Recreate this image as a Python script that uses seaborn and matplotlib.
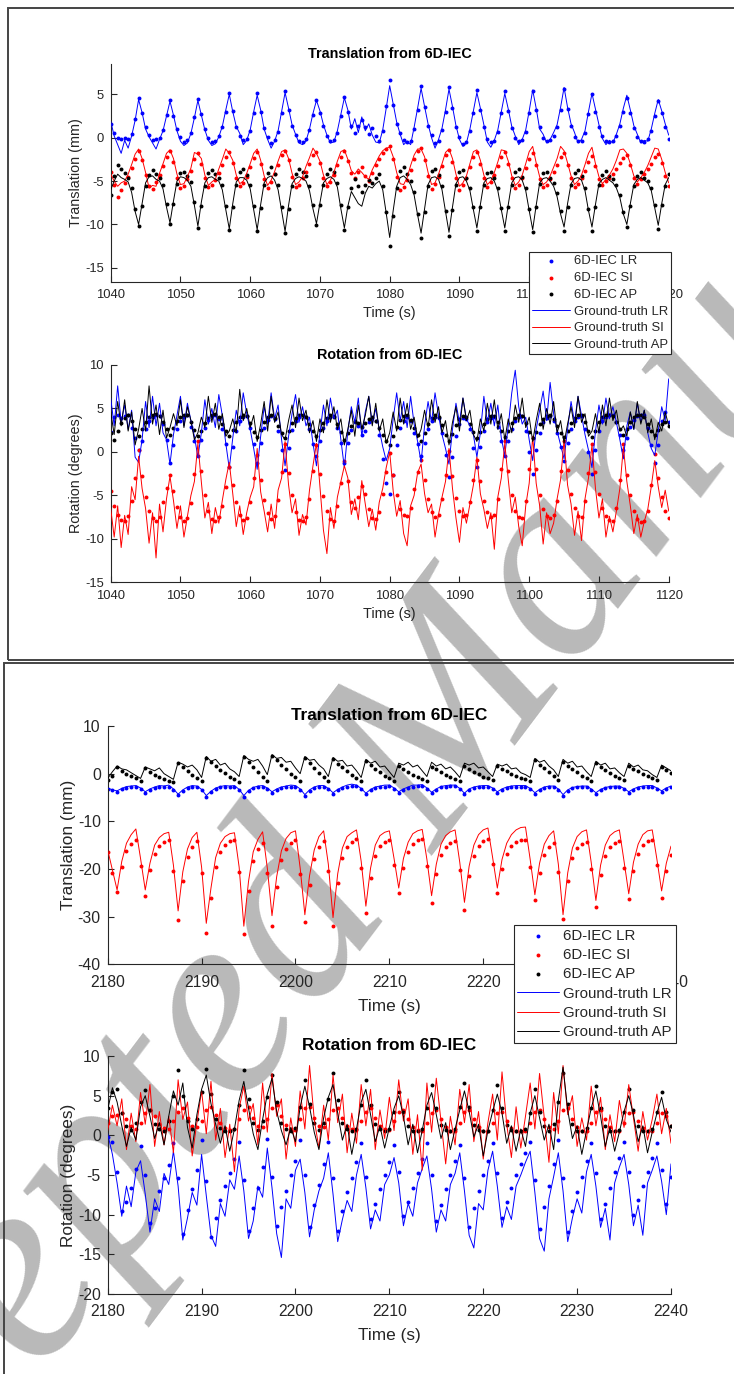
import numpy as np
import matplotlib
matplotlib.use("Agg")
import matplotlib.pyplot as plt
import matplotlib.patches as patches
import seaborn as sns


def vals(s):
    return np.array(s.split(), dtype=float)


# ---- top panel, 1040-1120 s, sampled every 0.5 s ----
top_start, top_step = 1040.0, 0.5

# translation (mm)
tt_lr_iec = vals("""
1.6 0.6 0.0 -0.1 0.0 -0.1 0.4 2.2 4.6 2.8
1.2 0.3 -0.3 -0.2 0.0 0.9 2.6 4.4 2.5 1.0
0.1 -0.5 -0.3 0.6 2.4 4.5 2.7 1.0 0.0 -0.5
-0.4 0.2 1.2 3.0 5.2 3.1 1.2 0.2 -0.3 -0.2
0.8 2.9 5.1 3.0 1.1 0.1 -0.6 -0.3 0.7 2.8
5.4 3.2 1.3 0.3 -0.4 -0.5 -0.2 0.9 2.6 4.4
2.9 1.3 0.2 -0.4 -0.3 0.6 2.5 4.7 3.0 1.4
0.5 1.3 2.0 1.2 0.4 1.1 0.2 -0.4 0.8 3.6
6.6 3.8 1.6 0.5 -0.3 -0.5 -0.4 1.0 3.2 6.0
3.5 1.4 0.3 -0.6 -0.4 0.9 3.0 5.9 3.4 1.2
0.1 -0.7 -0.5 0.8 2.9 5.5 3.2 1.2 -0.1 -0.5
-0.4 0.7 2.8 5.4 3.1 1.1 0.0 -0.4 -0.3 0.7
2.8 5.4 3.2 1.2 0.0 -0.4 -0.3 0.2 1.2 3.2
5.6 3.3 1.3 0.1 -0.4 -0.4 0.6 2.7 5.0 3.0
1.2 0.2 -0.4 -0.5 -0.4 0.2 1.3 3.0 4.6 2.8
1.1 0.1 -0.4 -0.5 -0.2 0.8 2.5 4.2 2.9 1.2
-0.2""")
tt_si_iec = vals("""
-3.9 -5.4 -6.8 -6.0 -5.2 -4.5 -3.5 -2.4 -1.5 -2.6
-4.3 -5.6 -5.9 -5.1 -4.3 -3.3 -2.2 -1.5 -2.8 -4.6
-5.8 -5.6 -4.8 -3.8 -2.4 -1.8 -3.0 -4.7 -5.7 -5.5
-4.9 -4.1 -3.2 -2.2 -1.6 -2.9 -4.6 -5.6 -5.2 -4.5
-3.4 -2.3 -1.6 -3.0 -4.8 -5.8 -5.1 -4.2 -3.2 -2.0
-1.5 -2.6 -4.5 -5.7 -5.4 -4.7 -3.9 -3.0 -2.0 -1.6
-2.9 -4.6 -5.6 -5.1 -4.3 -3.2 -2.2 -1.5 -2.7 -4.1
-4.6 -3.9 -3.4 -4.4 -5.0 -4.1 -3.2 -2.4 -1.8 -1.3
-1.0 -2.5 -4.5 -6.0 -5.7 -4.9 -3.7 -2.4 -1.5 -1.2
-2.6 -4.4 -5.9 -5.3 -4.5 -3.3 -2.0 -1.4 -2.8 -4.6
-6.0 -5.4 -4.6 -3.4 -2.2 -1.6 -3.0 -4.6 -5.7 -5.1
-4.3 -3.3 -2.2 -1.7 -3.0 -4.7 -5.8 -5.4 -4.6 -3.5
-2.4 -1.8 -3.2 -4.8 -5.7 -5.4 -4.8 -4.0 -3.2 -2.2
-1.8 -3.2 -4.7 -5.7 -5.3 -4.7 -3.8 -2.8 -2.1 -3.3
-4.8 -5.5 -5.0 -4.6 -4.2 -3.6 -2.9 -2.3 -2.0 -3.2
-4.7 -5.3 -4.8 -4.2 -3.6 -3.0 -2.2 -1.9 -2.9 -4.4
-5.6""")
tt_ap_iec = vals("""
-6.6 -4.4 -3.1 -3.6 -4.1 -4.6 -5.8 -8.2 -10.2 -7.9
-5.6 -4.3 -3.7 -4.2 -4.6 -5.4 -7.6 -10.0 -7.6 -5.3
-4.1 -3.9 -4.4 -5.1 -7.4 -10.4 -7.9 -5.6 -4.1 -3.7
-4.2 -4.6 -5.5 -7.9 -10.6 -8.0 -5.5 -4.0 -3.6 -4.3
-5.4 -7.9 -10.8 -8.1 -5.5 -4.1 -3.4 -4.2 -5.5 -8.0
-11.0 -8.2 -5.6 -4.2 -3.6 -3.9 -4.4 -5.6 -7.8 -10.1
-7.8 -5.5 -4.2 -3.6 -4.0 -5.2 -7.8 -10.6 -8.0 -5.8
-4.8 -5.6 -6.3 -5.4 -4.9 -5.2 -4.6 -4.2 -5.6 -8.6
-12.5 -9.0 -5.8 -3.8 -3.4 -4.2 -5.0 -6.3 -8.8 -11.6
-8.6 -5.6 -3.8 -3.6 -4.3 -5.6 -8.4 -11.3 -8.3 -5.5
-3.9 -3.7 -4.6 -5.8 -8.0 -10.7 -8.0 -5.4 -4.1 -3.9
-4.6 -5.8 -8.1 -10.7 -8.0 -5.4 -4.0 -3.6 -4.5 -5.8
-8.2 -10.9 -8.0 -5.3 -4.1 -4.0 -4.6 -5.2 -6.4 -8.4
-10.7 -8.0 -5.5 -4.1 -3.7 -4.4 -5.8 -8.2 -10.7 -8.0
-5.4 -4.3 -3.8 -4.4 -4.8 -5.5 -6.6 -8.6 -10.3 -7.9
-5.6 -4.4 -4.0 -4.6 -5.0 -5.8 -7.8 -10.5 -7.8 -5.6
-4.2""")
tt_lr_gt = vals("""
1.9 0.2 -0.8 -1.8 -0.3 -1.2 0.2 2.0 4.4 2.9
1.0 0.1 -0.6 -1.3 -0.2 0.8 2.5 4.2 2.6 0.8
-0.4 -0.9 -0.6 0.5 2.3 4.3 2.6 0.9 -0.3 -0.9
-0.7 0.1 1.3 3.2 5.0 3.0 1.3 0.5 -0.8 -0.3
0.9 3.0 4.9 3.2 1.0 -0.2 -1.2 -0.4 0.8 3.0
5.2 3.4 1.5 0.4 -0.6 -0.8 -0.4 1.0 2.8 4.3
3.1 1.5 0.3 -0.6 -0.5 0.8 2.7 4.6 3.2 1.0
2.2 0.6 2.4 0.8 1.6 0.3 -0.5 -0.6 0.9 3.4
6.0 3.9 1.8 0.4 -0.8 -0.4 -0.8 1.2 3.4 5.7
3.6 1.6 0.0 -1.2 -0.2 1.1 3.2 5.6 3.6 1.4
-0.2 -1.0 -0.6 1.0 3.1 5.2 3.4 1.5 -0.5 -1.1
-0.3 0.9 3.0 5.1 3.3 1.3 0.2 -0.8 -0.2 0.9
3.1 5.5 3.4 1.0 0.4 -0.6 -0.2 0.6 1.5 3.5
5.8 3.5 1.6 0.6 -0.6 -0.2 0.8 3.0 5.1 3.3
1.5 -0.1 -0.8 -0.3 -0.6 0.4 1.6 3.4 4.9 3.2
1.4 0.4 -0.6 -0.3 -0.4 1.0 2.8 4.4 3.1 1.6
0.3""")
tt_si_gt = vals("""
-4.2 -5.0 -5.6 -5.2 -5.0 -4.2 -3.1 -1.9 -1.3 -2.4
-4.0 -5.8 -5.5 -5.6 -4.1 -3.0 -1.8 -1.4 -2.4 -4.2
-5.4 -5.3 -4.5 -3.5 -1.7 -1.9 -2.4 -4.3 -5.5 -5.1
-4.8 -3.6 -2.5 -1.3 -1.8 -2.6 -4.3 -5.3 -5.0 -4.1
-3.0 -1.8 -1.3 -2.6 -4.4 -5.5 -4.9 -3.9 -2.7 -1.6
-1.4 -2.4 -4.1 -5.4 -5.1 -4.5 -3.3 -2.3 -1.2 -1.8
-2.7 -4.3 -5.4 -4.9 -4.0 -2.7 -1.6 -1.4 -2.5 -3.8
-4.2 -3.6 -4.0 -4.5 -4.8 -3.7 -2.9 -2.1 -1.5 -1.2
-1.1 -2.2 -4.0 -5.3 -5.4 -4.6 -3.2 -2.0 -1.3 -1.3
-2.2 -4.0 -5.4 -5.2 -4.2 -3.0 -1.7 -1.3 -2.4 -4.2
-5.6 -5.2 -4.4 -3.0 -1.6 -1.4 -2.6 -4.3 -5.4 -5.0
-4.0 -2.8 -1.4 -1.5 -2.7 -4.4 -5.5 -5.1 -4.3 -3.0
-1.6 -1.0 -2.9 -4.5 -5.4 -5.1 -4.4 -3.4 -2.4 -1.0
-1.5 -2.9 -4.4 -5.4 -5.0 -4.3 -3.1 -1.8 -1.1 -3.0
-4.5 -5.3 -4.8 -4.3 -3.6 -2.6 -1.4 -1.3 -1.8 -3.0
-4.4 -5.1 -4.6 -4.0 -3.2 -2.2 -1.2 -1.3 -2.5 -4.0
-5.2""")
tt_ap_gt = vals("""
-6.0 -5.0 -4.2 -4.6 -4.8 -5.1 -6.3 -8.5 -10.0 -7.6
-5.2 -4.5 -4.4 -4.8 -5.0 -5.9 -8.0 -9.8 -7.3 -5.0
-4.5 -4.6 -4.9 -5.6 -7.8 -10.2 -7.4 -5.2 -4.6 -4.5
-4.8 -5.0 -6.0 -8.3 -10.5 -7.6 -5.1 -4.6 -4.6 -4.9
-5.9 -8.3 -10.6 -7.7 -5.2 -4.6 -4.4 -4.9 -6.0 -8.4
-10.8 -7.8 -5.3 -4.7 -4.5 -4.7 -5.0 -6.1 -8.2 -9.9
-7.5 -5.2 -4.7 -4.5 -4.8 -5.7 -8.2 -10.4 -7.9 -6.2
-6.9 -7.6 -7.9 -6.4 -5.6 -5.8 -5.3 -5.0 -6.0 -8.7
-11.5 -8.4 -5.6 -4.6 -4.4 -4.8 -5.4 -6.6 -8.9 -11.0
-8.2 -5.4 -4.6 -4.5 -4.8 -6.0 -8.5 -10.9 -8.0 -5.3
-4.6 -4.5 -5.0 -6.1 -8.3 -10.4 -7.7 -5.2 -4.7 -4.6
-5.0 -6.1 -8.3 -10.4 -7.7 -5.2 -4.6 -4.5 -4.9 -6.1
-8.4 -10.6 -7.8 -5.2 -4.7 -4.6 -5.0 -5.6 -6.8 -8.8
-10.3 -7.6 -5.3 -4.7 -4.6 -4.9 -6.1 -8.4 -10.3 -7.7
-5.3 -4.8 -4.6 -4.9 -5.2 -5.8 -6.9 -8.8 -10.0 -7.6
-5.4 -4.8 -4.6 -4.9 -5.2 -6.1 -8.1 -10.1 -7.6 -5.4
-4.6""")

# rotation (degrees)
tr_lr_iec = vals("""
2.3 4.0 4.2 3.9 4.1 4.3 2.8 1.6 0.2 1.2
2.6 3.5 4.0 4.3 4.1 3.2 1.4 -1.3 0.8 2.6
3.6 4.0 4.2 2.9 1.2 -0.5 1.4 2.8 3.7 4.1
4.2 3.8 2.6 0.9 -1.7 0.6 2.4 3.6 4.0 4.1
2.8 0.9 -1.3 1.0 2.7 3.7 4.1 3.8 2.4 0.2
-2.1 0.4 2.5 3.6 4.0 4.2 4.0 2.6 0.9 -0.5
1.2 2.7 3.6 4.0 4.1 2.8 1.0 -1.3 1.0 2.5
3.4 3.0 2.0 2.4 3.4 3.9 3.6 2.0 -0.8 -3.6
-4.8 -2.6 0.8 2.8 3.6 4.0 3.6 2.2 0.9 -0.5
1.0 2.6 3.6 4.0 3.9 2.2 -0.4 -2.9 -0.6 1.8
3.2 3.9 3.8 2.6 0.5 -1.7 0.6 2.4 3.4 3.9
4.0 2.9 1.2 -0.5 1.2 2.6 3.5 4.0 4.1 2.4
0.0 -2.5 0.2 2.2 3.4 3.9 4.1 3.6 2.2 0.6
-1.0 1.0 2.6 3.5 4.0 4.1 2.6 0.0 -2.5 0.2
2.4 3.5 4.0 4.2 4.3 3.4 1.9 0.2 1.6 2.9
3.7 4.1 4.3 4.2 2.8 0.8 -1.3 0.8 3.6 4.6
3.4""")
tr_si_iec = vals("""
-4.5 -6.2 -7.2 -7.8 -8.0 -7.4 -5.6 -3.0 0.2 -2.8
-5.2 -6.8 -7.6 -7.9 -7.5 -5.8 -4.2 -2.7 -4.5 -6.3
-7.5 -7.9 -7.6 -5.9 -2.5 1.2 -2.2 -5.0 -6.8 -7.7
-7.9 -7.5 -6.2 -4.0 -1.7 -3.8 -5.8 -7.2 -7.8 -7.6
-5.8 -3.0 -0.3 -3.2 -5.5 -7.0 -7.7 -7.4 -5.5 -2.3
0.9 -2.4 -5.0 -6.9 -7.8 -8.0 -7.5 -5.4 -2.2 0.8
-2.5 -5.1 -6.8 -7.7 -7.9 -6.2 -3.6 -1.0 -3.4 -5.8
-6.4 -5.2 -3.9 -4.8 -6.6 -7.6 -7.7 -6.9 -4.8 -2.3
-0.1 -2.6 -5.0 -6.6 -7.3 -7.4 -6.4 -4.3 -2.3 -0.9
-3.2 -5.4 -6.9 -7.5 -7.3 -5.4 -2.6 0.1 -2.8 -5.3
-6.8 -7.4 -7.3 -5.8 -3.2 -0.9 -3.4 -5.6 -6.9 -7.5
-7.2 -5.4 -2.0 1.3 -2.2 -5.0 -6.8 -7.5 -7.6 -5.6
-2.0 1.6 -2.0 -4.9 -6.6 -7.4 -7.6 -7.3 -5.6 -2.2
1.3 -2.1 -4.8 -6.5 -7.4 -7.5 -5.6 -2.4 0.9 -2.3
-4.8 -6.5 -7.4 -7.8 -7.9 -6.4 -3.2 0.9 -2.6 -5.0
-6.8 -7.7 -8.1 -7.9 -6.8 -3.8 -0.2 -3.0 -5.2 -6.8
-7.6""")
tr_ap_iec = vals("""
2.2 1.4 2.4 3.3 3.9 4.2 3.6 2.6 1.8 2.6
3.4 4.0 4.3 4.4 4.1 3.4 2.6 2.0 2.8 3.5
4.0 4.3 4.2 3.4 2.5 1.8 2.4 3.3 3.9 4.2
4.4 4.0 3.2 2.4 1.8 2.5 3.4 4.0 4.3 4.1
3.3 2.3 1.7 2.5 3.4 4.0 4.3 3.9 3.0 2.2
1.6 2.4 3.3 3.9 4.2 4.3 4.0 3.2 2.4 1.8
2.5 3.3 3.9 4.2 4.0 3.2 2.3 1.4 2.2 3.0
3.5 3.3 2.9 3.3 3.8 4.0 3.6 2.8 2.0 1.2
0.8 1.8 2.9 3.7 4.1 4.2 3.7 2.8 1.9 1.2
2.2 3.2 3.9 4.2 4.0 3.1 2.0 1.2 2.1 3.1
3.8 4.1 4.0 3.2 2.3 1.6 2.3 3.2 3.8 4.1
4.1 3.4 2.4 1.7 2.4 3.3 3.9 4.2 4.1 3.3
2.3 1.6 2.3 3.2 3.8 4.1 4.2 3.8 3.0 2.2
1.7 2.4 3.3 3.9 4.2 4.2 3.4 2.4 1.7 2.4
3.4 4.0 4.3 4.3 4.1 3.4 2.6 2.0 2.6 3.4
4.0 4.3 4.3 4.0 3.2 2.4 1.9 2.5 3.2 3.4
3.0""")
tr_lr_gt = vals("""
6.2 3.0 7.6 3.4 5.4 2.6 4.8 -0.6 -1.2 1.4
5.8 2.8 6.4 3.0 5.6 2.2 1.4 -1.4 2.0 4.2
6.4 3.0 5.6 3.6 1.8 -0.6 2.2 6.0 3.2 5.0
2.8 6.6 4.2 1.0 -1.9 1.6 4.8 3.0 6.8 4.4
2.6 0.4 -2.0 1.8 5.2 3.2 6.8 3.8 5.4 1.4
-1.6 1.8 4.4 6.6 3.4 5.2 3.0 4.0 1.0 -1.6
2.2 5.4 3.0 6.2 3.8 4.8 1.4 -1.8 2.4 5.2
3.4 6.2 1.8 4.6 6.4 3.2 5.0 2.6 0.6 -1.0
0.4 3.8 6.8 3.6 5.8 2.8 6.4 3.2 1.2 -1.2
3.0 5.8 3.4 6.8 4.2 2.0 0.4 -1.4 2.6 5.6
3.4 6.2 3.8 3.0 2.0 -0.6 2.2 6.4 3.4 5.6
3.0 5.4 1.6 -0.4 3.0 6.8 9.4 5.2 3.2 4.0
1.4 -1.0 2.6 4.8 7.0 3.6 8.0 4.4 2.4 0.8
-0.8 2.6 5.8 3.4 6.4 4.2 2.0 0.2 -1.8 2.4
5.4 3.2 6.2 3.8 5.2 3.4 1.4 -0.8 3.0 4.6
2.6 5.6 3.4 4.8 2.2 0.4 -0.4 2.4 5.2 3.6
8.4""")
tr_si_gt = vals("""
-6.5 -9.8 -6.2 -11.0 -7.3 -9.5 -4.0 -5.5 -0.5 -4.2
-6.5 -10.5 -7.0 -12.2 -6.0 -9.2 -5.4 -2.8 -5.6 -8.8
-6.2 -9.8 -7.4 -5.0 -3.4 1.0 -3.5 -7.6 -5.8 -9.4
-6.4 -8.2 -5.6 -3.2 -1.2 -4.8 -8.6 -6.2 -9.5 -7.0
-5.2 -4.0 0.4 -4.6 -6.8 -9.2 -6.0 -8.8 -4.4 -3.0
1.2 -3.8 -7.0 -5.4 -9.6 -7.2 -8.4 -4.4 -1.6 1.0
-4.0 -9.0 -11.7 -6.4 -8.8 -5.2 -3.4 -1.6 -3.0 -7.2
-5.4 -7.8 -3.3 -6.0 -8.6 -6.6 -9.0 -5.8 -4.2 -1.8
0.0 -4.5 -7.4 -5.6 -9.4 -10.8 -6.2 -5.0 -2.4 -1.4
-4.8 -7.0 -6.0 -9.8 -7.2 -5.2 -3.4 0.4 -4.2 -7.6
-10.4 -6.4 -8.2 -6.0 -3.8 -0.6 -4.8 -6.6 -8.8 -7.0
-11.2 -5.2 -3.0 1.0 -3.2 -7.0 -5.2 -8.6 -10.8 -6.2
-3.6 1.8 -3.6 -6.2 -10.6 -7.0 -9.4 -8.2 -5.4 -3.2
1.4 -3.8 -6.0 -9.6 -6.8 -10.2 -5.4 -3.0 0.8 -4.2
-7.6 -5.4 -9.8 -7.4 -9.2 -6.8 -4.2 0.6 -3.4 -6.2
-9.4 -7.2 -9.8 -8.0 -6.6 -4.0 -1.0 -4.0 -6.4 -4.4
-6.8""")
tr_ap_gt = vals("""
4.6 2.0 5.8 3.0 6.0 2.4 4.6 0.8 2.6 5.0
2.4 7.6 3.2 5.4 2.0 4.8 1.6 2.8 4.4 3.0
6.0 2.8 5.2 3.6 1.4 2.2 4.0 2.8 6.4 3.4
5.6 2.6 4.4 1.8 2.4 3.8 2.2 7.2 3.6 5.0
2.8 4.2 1.2 3.2 5.8 2.4 6.4 3.4 4.6 2.0
1.4 3.6 5.4 2.8 6.2 3.6 4.8 2.2 3.6 1.2
3.8 2.2 6.0 3.4 5.2 2.6 3.8 0.8 2.6 4.8
1.8 5.4 2.6 4.2 6.4 3.0 5.6 2.4 3.8 1.0
2.2 4.6 2.4 6.2 3.2 5.6 2.6 4.0 1.6 2.6
4.8 2.8 6.0 3.4 5.2 2.2 3.6 0.8 3.4 5.2
2.4 6.2 3.6 4.8 2.0 1.2 3.8 2.4 5.6 3.2
6.0 2.6 4.4 1.4 3.8 2.2 5.4 3.4 6.2 2.8
4.0 1.2 3.6 5.6 2.6 5.0 3.2 5.8 2.2 3.6
1.0 3.2 5.2 2.8 6.4 3.4 4.4 1.8 2.4 4.4
2.2 5.4 3.0 6.2 3.6 4.8 2.4 3.0 1.8 4.6
2.6 5.8 3.2 4.8 2.2 3.8 1.4 3.4 2.4 4.6
3.0""")

# ---- bottom panel, 2180-2240 s, sampled every 0.5 s ----
bot_start, bot_step = 2180.0, 0.5

bt_lr_iec = vals("""
-3.3 -3.5 -3.8 -3.3 -3.0 -2.8 -2.7 -3.2 -4.0 -3.4
-3.0 -2.8 -2.7 -2.7 -3.4 -4.5 -3.6 -3.0 -2.8 -2.7
-3.5 -4.8 -3.9 -3.2 -2.9 -2.8 -2.7 -2.7 -3.5 -4.8
-3.7 -3.1 -2.8 -2.7 -3.2 -4.0 -3.4 -3.0 -2.8 -2.7
-2.7 -3.4 -4.6 -3.6 -3.0 -2.8 -2.7 -3.3 -4.2 -3.5
-3.0 -2.7 -2.6 -2.6 -3.3 -4.3 -3.5 -3.0 -2.8 -2.7
-2.6 -3.2 -4.0 -3.4 -3.0 -2.7 -2.6 -2.5 -3.2 -4.1
-3.4 -2.9 -2.7 -2.6 -2.6 -3.3 -4.3 -3.4 -3.0 -2.8
-2.7 -2.7 -3.2 -4.0 -3.4 -3.0 -2.8 -2.7 -2.7 -2.7
-3.3 -4.2 -3.5 -3.0 -2.8 -2.8 -3.4 -4.6 -3.6 -3.1
-2.9 -2.8 -2.8 -3.4 -4.2 -3.5 -3.1 -2.9 -2.8 -2.8
-3.3 -4.0 -3.4 -3.0 -2.8 -2.7 -2.7 -3.2 -3.8 -3.2
-2.8""")
bt_si_iec = vals("""
-16.5 -20.8 -24.8 -19.6 -16.2 -14.8 -14.0 -19.4 -25.7 -20.2
-16.8 -15.2 -14.4 -13.9 -20.5 -30.7 -22.5 -17.4 -15.3 -14.2
-20.8 -33.5 -26.0 -19.5 -16.4 -15.0 -14.2 -14.0 -20.6 -33.7
-24.6 -18.4 -15.8 -14.6 -20.8 -31.9 -23.8 -18.2 -15.8 -14.6
-14.0 -21.0 -31.2 -23.4 -18.0 -15.4 -14.2 -20.4 -31.9 -23.0
-17.8 -15.4 -14.4 -13.8 -19.8 -29.2 -21.8 -17.2 -15.2 -14.4
-14.0 -19.2 -25.1 -19.8 -16.4 -14.8 -14.0 -13.8 -19.4 -27.2
-21.0 -17.0 -15.4 -14.6 -14.2 -20.2 -28.6 -21.4 -17.2 -15.2
-14.2 -13.8 -19.0 -25.1 -20.0 -16.8 -15.2 -14.4 -14.0 -13.9
-19.6 -26.5 -20.8 -17.0 -15.4 -14.6 -20.6 -30.6 -22.6 -17.6
-15.6 -14.8 -14.4 -20.0 -27.9 -21.2 -17.2 -15.4 -14.6 -14.2
-19.8 -26.2 -20.4 -16.8 -15.0 -14.2 -14.0 -19.2 -26.0 -20.4
-17.0""")
bt_ap_iec = vals("""
-1.4 -0.4 1.4 0.6 0.0 -0.5 -1.0 -1.5 1.2 0.4
-0.2 -0.7 -1.1 -1.5 -1.7 2.2 1.3 0.5 -0.3 -1.0
-1.6 3.3 2.4 1.6 0.8 0.1 -0.6 -1.2 -1.7 3.5
2.4 1.4 0.4 -0.6 -1.5 3.8 2.8 1.8 0.9 0.0
-0.8 -1.5 3.2 2.2 1.2 0.2 -0.7 -1.5 3.0 2.1
1.3 0.5 -0.3 -1.0 -1.6 2.6 1.8 1.0 0.3 -0.4
-1.0 -1.5 1.6 1.0 0.4 -0.2 -0.7 -1.2 -1.5 1.5
0.9 0.3 -0.2 -0.7 -1.1 -1.5 1.6 1.0 0.4 -0.1
-0.6 -1.0 -1.4 1.6 1.0 0.5 0.0 -0.5 -0.9 -1.2
-1.5 2.8 1.9 1.1 0.3 -0.5 -1.3 2.5 1.7 1.0
0.3 -0.4 -1.0 -1.5 2.2 1.5 0.8 0.2 -0.4 -0.9
-1.4 1.6 1.0 0.5 0.0 -0.5 -0.9 -1.3 1.3 0.8
0.2""")
bt_lr_gt = vals("""
-3.0 -3.4 -3.6 -3.1 -2.7 -2.6 -2.5 -3.0 -3.8 -3.2
-2.8 -2.5 -2.6 -2.4 -3.2 -4.3 -3.4 -2.8 -2.5 -2.6
-3.3 -4.6 -3.7 -3.0 -2.7 -2.5 -2.6 -2.5 -3.3 -4.6
-3.5 -2.9 -2.6 -2.5 -3.0 -3.8 -3.2 -2.8 -2.6 -2.4
-2.5 -3.2 -4.4 -3.4 -2.8 -2.5 -2.5 -3.1 -4.0 -3.3
-2.8 -2.4 -2.2 -2.4 -3.1 -4.1 -3.3 -2.8 -2.6 -2.4
-2.4 -3.0 -3.8 -3.2 -2.8 -2.4 -2.4 -2.3 -3.0 -3.9
-3.2 -2.7 -2.5 -2.4 -2.4 -3.1 -4.1 -3.2 -2.8 -2.6
-2.5 -2.5 -3.0 -3.8 -3.2 -2.8 -2.6 -2.5 -2.5 -2.5
-3.1 -4.0 -3.3 -2.8 -2.6 -2.6 -3.2 -4.4 -3.4 -2.9
-2.7 -2.6 -2.6 -3.2 -4.0 -3.3 -2.9 -2.7 -2.6 -2.6
-3.1 -3.8 -3.2 -2.8 -2.6 -2.5 -2.5 -3.0 -3.6 -3.0
-2.6""")
bt_si_gt = vals("""
-16.0 -20.2 -24.4 -18.4 -14.6 -12.8 -11.6 -17.8 -24.4 -18.8
-15.0 -13.4 -12.6 -12.3 -19.2 -28.8 -20.6 -15.8 -13.4 -12.3
-19.6 -31.4 -24.0 -17.6 -14.6 -13.2 -12.6 -12.4 -19.6 -32.0
-22.6 -16.4 -13.8 -12.2 -19.8 -29.8 -21.6 -16.2 -13.6 -12.4
-12.0 -19.8 -29.6 -21.4 -16.0 -13.2 -12.0 -19.0 -30.2 -21.0
-15.6 -13.2 -12.4 -11.8 -18.4 -27.8 -19.8 -15.0 -13.0 -12.3
-12.0 -17.8 -24.0 -17.8 -14.4 -12.6 -12.0 -11.7 -18.0 -25.6
-19.0 -14.8 -13.0 -12.2 -11.8 -18.6 -27.0 -19.4 -15.0 -12.8
-11.8 -11.4 -17.6 -24.0 -18.0 -14.6 -12.8 -11.8 -11.3 -11.2
-18.0 -25.4 -18.8 -14.8 -13.0 -12.0 -19.0 -29.6 -20.8 -15.6
-13.2 -12.2 -11.8 -18.6 -26.6 -19.2 -15.0 -13.0 -12.2 -11.8
-18.4 -25.2 -18.6 -14.8 -12.8 -12.0 -11.8 -18.0 -24.6 -18.8
-15.2""")
bt_ap_gt = vals("""
-1.0 0.4 1.6 1.0 0.8 0.2 -0.4 -1.0 1.4 1.0
0.6 1.2 0.0 -0.6 -1.2 2.4 2.0 1.4 1.8 0.8
-0.8 3.6 2.6 3.0 1.8 2.2 1.0 0.4 -0.6 3.8
3.0 2.6 3.0 1.6 -0.2 4.0 3.2 3.4 2.4 2.6
1.2 0.0 3.6 2.8 3.0 1.8 1.0 -0.6 3.4 2.6
2.8 1.6 1.8 0.6 -0.8 3.0 2.2 2.6 1.4 1.6
0.4 -0.8 2.2 1.8 2.4 1.4 1.8 0.6 -0.6 2.4
1.6 2.0 1.0 1.4 0.4 -0.8 2.2 1.8 2.2 1.2
1.4 0.4 -0.6 2.0 1.6 2.0 1.0 1.2 0.2 -0.2
-0.8 3.2 2.4 2.8 1.6 0.8 -0.6 3.0 2.2 2.6
1.4 1.6 0.4 -0.6 2.6 1.8 2.2 1.0 1.2 0.2
-0.6 2.2 1.4 1.8 0.8 0.6 -0.2 -0.8 1.8 1.2
0.6""")

br_lr_iec = vals("""
-0.2 -0.8 -4.6 -9.5 -8.4 -6.6 -4.2 -1.4 -5.0 -11.0
-9.2 -7.0 -5.4 -3.8 -1.0 -5.4 -12.4 -9.4 -6.8 -4.4
-0.6 -5.8 -12.8 -10.4 -8.2 -6.4 -4.8 -3.0 -0.8 -5.6
-12.0 -9.2 -6.6 -4.0 -0.4 -5.2 -11.4 -9.0 -7.0 -5.0
-3.2 -0.6 -5.0 -11.6 -8.8 -6.2 -3.6 -0.8 -5.4 -12.0
-9.6 -7.2 -5.4 -3.4 -1.0 -5.2 -10.6 -8.6 -6.8 -5.0
-3.4 -1.2 -4.6 -10.2 -8.4 -6.6 -4.8 -3.0 -1.0 -5.0
-10.8 -8.8 -6.8 -5.0 -3.2 -1.2 -5.4 -11.6 -9.2 -7.0
-5.0 -3.2 -1.0 -4.8 -10.4 -8.4 -6.6 -5.0 -3.6 -2.2
-0.8 -5.6 -11.8 -9.0 -6.4 -3.6 -0.6 -5.4 -12.2 -9.6
-7.2 -5.2 -3.2 -1.0 -4.8 -10.6 -8.6 -6.6 -4.6 -2.8
-0.8 -4.6 -10.0 -8.2 -6.4 -4.6 -2.8 -1.0 -4.4 -8.6
-5.2""")
br_si_iec = vals("""
1.6 2.4 2.6 2.8 2.0 1.2 0.8 1.6 2.8 3.2
2.4 1.4 0.9 0.8 1.8 3.0 3.4 2.2 1.2 1.0
1.8 3.2 3.6 2.6 1.5 0.9 0.7 0.8 2.0 3.2
3.6 2.2 1.2 1.0 2.0 3.4 3.8 2.4 1.3 0.8
0.7 2.0 3.4 3.6 2.2 1.2 1.0 2.0 3.2 3.4
2.2 1.2 0.8 0.7 1.8 3.0 3.4 2.2 1.2 0.8
0.7 1.8 3.0 3.2 2.0 1.1 0.7 0.6 1.6 2.8
3.2 2.0 1.0 0.6 0.6 1.6 3.0 3.2 2.0 1.0
0.6 0.5 1.6 2.8 3.0 1.8 0.9 0.6 0.5 0.6
1.6 3.0 3.2 2.0 1.0 0.8 1.8 3.2 3.4 2.0
1.0 0.6 0.6 1.6 3.0 3.2 2.0 1.0 0.6 0.6
1.6 2.8 3.0 1.8 0.9 0.6 0.6 1.6 2.8 2.4
1.2""")
br_ap_iec = vals("""
3.4 5.4 5.8 2.8 1.2 0.7 1.6 4.2 5.7 3.2
1.4 0.8 0.6 1.8 5.0 8.2 5.0 1.8 0.8 2.0
5.4 8.4 5.2 2.0 0.9 0.6 0.5 0.8 3.8 8.2
4.6 1.5 0.7 1.8 4.8 7.6 4.2 1.6 0.8 0.6
0.9 3.6 7.0 4.0 1.5 0.7 1.6 4.6 7.8 4.4
1.6 0.8 0.6 0.8 3.8 7.0 3.8 1.4 0.8 0.6
0.8 3.0 5.5 3.0 1.2 0.6 0.5 0.8 3.4 6.3
3.4 1.3 0.7 0.5 0.8 3.6 6.6 3.6 1.3 0.7
0.5 0.6 3.2 6.3 3.4 1.3 0.7 0.5 0.5 0.8
2.8 5.8 3.0 1.2 0.6 1.4 4.2 7.8 4.0 1.4
0.6 0.5 0.9 3.4 6.2 3.4 1.2 0.6 0.5 0.7
3.0 5.8 3.2 1.2 0.6 0.5 0.8 3.0 5.5 3.0
1.2""")
br_lr_gt = vals("""
0.2 -2.4 -6.0 -10.2 -6.4 -9.0 -4.6 -3.2 -7.4 -12.2
-8.0 -9.6 -4.8 -6.2 -2.0 -6.4 -13.2 -10.4 -7.2 -8.8
-2.4 -7.6 -12.6 -14.0 -8.6 -10.2 -5.6 -6.8 -2.6 -7.0
-13.0 -10.8 -6.4 -7.8 -1.6 -6.6 -12.4 -15.4 -8.0 -9.2
-4.4 -3.0 -7.2 -12.8 -9.4 -7.0 -5.4 -2.2 -7.4 -13.4
-10.6 -8.2 -9.6 -5.0 -2.4 -6.6 -11.8 -9.4 -10.8 -6.2
-5.0 -2.8 -6.0 -11.4 -8.6 -10.2 -6.0 -4.2 -2.6 -6.8
-12.2 -9.4 -10.8 -6.2 -4.8 -2.2 -7.0 -12.6 -14.2 -8.6
-9.4 -4.4 -2.0 -6.4 -11.6 -9.0 -10.6 -6.4 -5.0 -3.4
-2.0 -7.2 -13.0 -14.6 -8.0 -5.2 -2.2 -7.0 -13.4 -10.4
-8.0 -9.8 -4.6 -2.4 -6.4 -11.6 -9.2 -13.2 -6.0 -4.0
-2.4 -6.2 -11.4 -8.8 -12.6 -6.0 -4.4 -2.6 -5.8 -10.0
-3.6""")
br_si_gt = vals("""
0.6 3.8 1.2 4.6 -1.8 2.8 -0.8 5.4 1.4 6.4
-1.4 3.0 -1.2 2.4 -2.2 7.0 2.0 4.2 -2.6 1.6
5.6 0.2 6.8 -0.6 3.4 -2.8 1.4 -4.6 3.4 6.2
1.8 4.0 -1.2 6.6 0.4 7.8 2.4 4.6 -3.0 2.2
-1.4 5.6 0.8 8.8 2.0 -1.6 3.8 -0.6 7.6 1.6
5.2 -2.2 2.8 -1.0 6.4 1.2 5.8 -1.8 3.2 -0.4
4.8 0.6 7.0 1.8 4.6 -2.4 2.6 -4.4 6.6 0.4
7.2 1.8 -3.6 2.4 -1.2 5.8 1.6 6.4 -0.8 3.0
-3.0 1.6 5.2 -0.6 8.0 1.4 -2.8 3.6 -1.6 2.4
6.6 0.8 7.8 2.2 -3.4 5.4 0.2 8.8 2.6 5.0
-1.4 2.2 -0.6 6.2 1.2 4.8 -1.8 2.6 -0.8 4.4
1.0 6.4 2.2 -2.0 3.0 -0.6 2.0 5.2 0.2 3.4
-1.0""")
br_ap_gt = vals("""
3.2 6.0 4.2 1.2 -1.4 1.0 -0.6 3.6 5.0 2.4
-0.4 1.6 -1.2 2.4 5.6 3.8 6.6 1.0 -1.6 2.6
5.8 7.6 4.0 1.4 -1.0 1.2 -2.0 0.8 4.4 6.8
3.4 0.2 -1.8 2.0 5.2 7.2 3.0 0.6 -1.2 1.0
-0.8 3.6 6.2 3.6 0.4 -1.8 2.2 4.8 6.4 2.8
-0.6 1.4 -2.4 0.8 4.2 5.8 2.6 -0.8 1.2 -1.6
1.0 3.4 5.0 2.4 -1.2 1.4 -2.2 0.6 3.8 5.4
2.6 -0.4 1.6 -1.8 0.8 3.2 5.6 3.0 -0.2 1.4
-2.6 0.6 3.0 5.2 2.8 -1.0 1.2 -2.0 0.8 -1.4
2.8 5.0 2.2 -0.6 1.4 -1.8 4.4 8.6 3.2 -0.4
1.2 -2.4 0.6 3.4 5.6 2.4 -1.4 1.0 -2.0 0.4
3.0 5.0 2.6 -0.8 1.2 -2.2 0.4 2.8 4.8 2.0
0.4""")

colors = ["#0000ff", "#ff0000", "#000000"]
iec_labels = ["6D-IEC LR", "6D-IEC SI", "6D-IEC AP"]
gt_labels = ["Ground-truth LR", "Ground-truth SI", "Ground-truth AP"]

sns.set_theme(style="ticks")
plt.rcParams["font.family"] = ["Liberation Sans", "DejaVu Sans"]
plt.rcParams["axes.unicode_minus"] = False
plt.rcParams["axes.edgecolor"] = "#262626"
plt.rcParams["xtick.color"] = "#262626"
plt.rcParams["ytick.color"] = "#262626"
plt.rcParams["axes.labelcolor"] = "#262626"

W, H = 734, 1374
fig = plt.figure(figsize=(W / 100, H / 100), dpi=100)
fig.patch.set_facecolor("white")


def px_axes(left, top, right, bottom):
    return fig.add_axes([left / W, 1 - bottom / H, (right - left) / W, (bottom - top) / H])


def draw(ax, start, step, iec, gt, title, ylabel, ylim, yticks, xticks, fs, xpad, tpad):
    t = start + step * np.arange(len(iec[0]))
    for v, c, lab in zip(iec, colors, iec_labels):
        sns.scatterplot(x=t, y=v, color=c, s=8, linewidth=0, ax=ax, label=lab, zorder=2)
    for v, c, lab in zip(gt, colors, gt_labels):
        sns.lineplot(x=t, y=v, color=c, lw=0.7, estimator=None, sort=False, ax=ax,
                     label=lab, zorder=3)
    if ax.get_legend() is not None:
        ax.get_legend().remove()
    ax.set_facecolor("none")
    ax.set_xlim(xticks[0], xticks[-1])
    ax.set_ylim(*ylim)
    ax.set_xticks(xticks)
    ax.set_yticks(yticks)
    ax.tick_params(direction="in", length=4, width=0.8, labelsize=fs)
    ax.tick_params(axis="x", pad=tpad)
    ax.tick_params(axis="y", pad=5)
    ax.set_title(title, fontsize=fs * 1.1, fontweight="bold", color="black", pad=4)
    ax.set_xlabel("Time (s)", fontsize=fs * 1.1, labelpad=xpad)
    ax.set_ylabel(ylabel, fontsize=fs * 1.1, labelpad=1.5)
    sns.despine(ax=ax)
    for s in ("left", "bottom"):
        ax.spines[s].set_linewidth(0.8)


def add_legend(ax, x, y, fs, hl):
    h, l = ax.get_legend_handles_labels()
    order = iec_labels + gt_labels
    hd = dict(zip(l, h))
    leg = fig.legend([hd[k] for k in order], order, loc="upper left",
                     bbox_to_anchor=(x / W, 1 - y / H), bbox_transform=fig.transFigure,
                     fontsize=fs, frameon=True, fancybox=False, framealpha=1,
                     edgecolor="#262626", borderpad=0.25, labelspacing=0.35,
                     handlelength=hl, handletextpad=0.3, borderaxespad=0,
                     scatterpoints=1)
    leg.get_frame().set_linewidth(0.8)
    leg.set_zorder(10)


top_xt = list(range(1040, 1121, 10))
bot_xt = list(range(2180, 2241, 10))

ax1 = px_axes(110.7, 64, 668.7, 281.7)
draw(ax1, top_start, top_step, [tt_lr_iec, tt_si_iec, tt_ap_iec],
     [tt_lr_gt, tt_si_gt, tt_ap_gt], "Translation from 6D-IEC", "Translation (mm)",
     (-16.6, 8.5), [-15, -10, -5, 0, 5], top_xt, 9.4, 3.5, 5.5)

ax2 = px_axes(110.7, 365, 668.7, 582.3)
draw(ax2, top_start, top_step, [tr_lr_iec, tr_si_iec, tr_ap_iec],
     [tr_lr_gt, tr_si_gt, tr_ap_gt], "Rotation from 6D-IEC", "Rotation (degrees)",
     (-15, 10), [-15, -10, -5, 0, 5, 10], top_xt, 9.4, 3.5, 5.5)

ax3 = px_axes(107.7, 726, 671, 964.3)
draw(ax3, bot_start, bot_step, [bt_lr_iec, bt_si_iec, bt_ap_iec],
     [bt_lr_gt, bt_si_gt, bt_ap_gt], "Translation from 6D-IEC", "Translation (mm)",
     (-40, 10), [-40, -30, -20, -10, 0, 10], bot_xt, 11.3, 6.5, 7.5)

ax4 = px_axes(107.7, 1056, 671, 1294)
draw(ax4, bot_start, bot_step, [br_lr_iec, br_si_iec, br_ap_iec],
     [br_lr_gt, br_si_gt, br_ap_gt], "Rotation from 6D-IEC", "Rotation (degrees)",
     (-20, 10), [-20, -15, -10, -5, 0, 5, 10], bot_xt, 11.3, 6.5, 7.5)

add_legend(ax1, 528.7, 252, 9.4, 2.9)
add_legend(ax3, 513.7, 925, 10.8, 2.75)

# panel frames
fig.add_artist(patches.Rectangle((8 / W, 1 - 660 / H), 2, (660 - 8) / H, fill=False,
                                 edgecolor="#444444", lw=1.4, transform=fig.transFigure,
                                 zorder=0.5))
fig.add_artist(patches.Rectangle((4 / W, -0.2), 2, 0.2 + 1 - 663 / H, fill=False,
                                 edgecolor="#444444", lw=1.4, transform=fig.transFigure,
                                 zorder=0.5))

# watermark behind the data
fig.text(445 / W, 1 - 750 / H, "Accepted Manuscript", rotation=53, fontsize=195,
         color="#b9b9b9", family="Liberation Serif", style="italic",
         ha="center", va="center", rotation_mode="anchor", zorder=-1)

fig.savefig("out.png", dpi=100)
